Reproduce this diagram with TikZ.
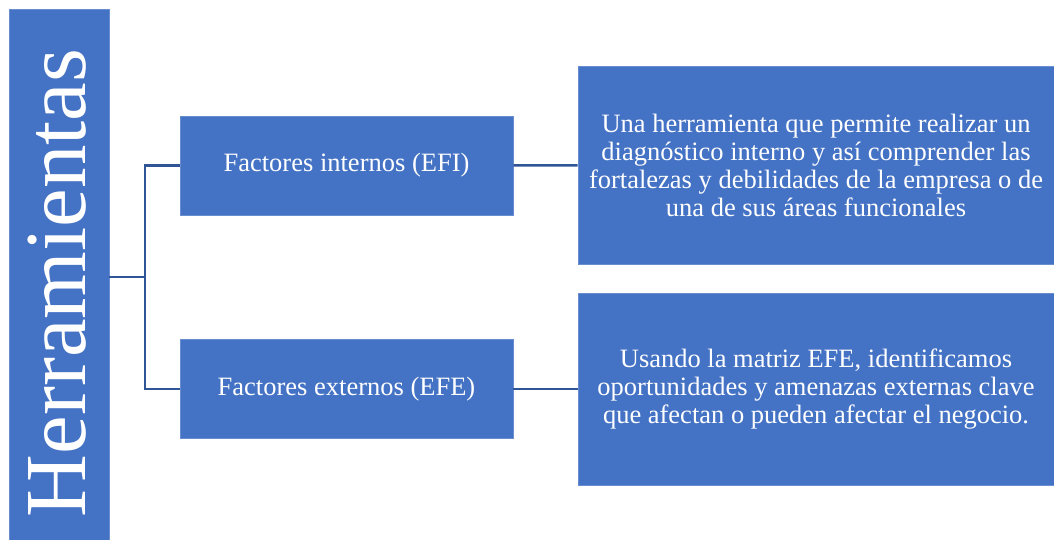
\documentclass[tikz,border=0pt]{standalone}
\usepackage{fontspec}
\setmainfont{Liberation Serif}
\definecolor{boxblue}{HTML}{4472C4}
\definecolor{lineblue}{HTML}{2F5597}
\tikzset{
    bloque/.style={fill=boxblue,draw=boxblue!80!white,line width=0.8pt,text=white,align=center,
        font=\fontsize{26.5}{28}\selectfont,inner sep=4pt},
    enlace/.style={draw=lineblue,line width=2.5pt}
}
\begin{document}
\begin{tikzpicture}[x=1pt,y=-1pt]
    \useasboundingbox (0,0) rectangle (1054,540);
    \node[bloque,minimum width=100pt,minimum height=531pt] (herr) at (59,274.5) {};
    \node[text=white,rotate=90,font=\fontsize{87}{90}\selectfont,inner sep=0pt] (titulo) at (57,283) {Herramientas};
    \node[bloque,minimum width=333pt,minimum height=99pt] (efi) at (346.5,165.5) {Factores internos (EFI)};
    \node[bloque,minimum width=333pt,minimum height=99pt] (efe) at (346.5,389) {Factores externos (EFE)};
    \node[bloque,minimum width=476pt,minimum height=198pt] (dint) at (816,165)
        {Una herramienta que permite realizar un\\ diagnóstico interno y así comprender las\\
         fortalezas y debilidades de la empresa o de\\ una de sus áreas funcionales};
    \node[bloque,minimum width=476pt,minimum height=192pt] (dext) at (816,389)
        {Usando la matriz EFE, identificamos\\ oportunidades y amenazas externas clave\\ que afectan o pueden afectar el negocio.};
    \coordinate (union) at (145,277);
    \draw[enlace] (herr.east |- union) -- (union);
    \draw[enlace] (efi.west) -| (union) |- (efe.west);
    \draw[enlace] (efi) -- (dint);
    \draw[enlace] (efe) -- (dext);
\end{tikzpicture}
\end{document}
